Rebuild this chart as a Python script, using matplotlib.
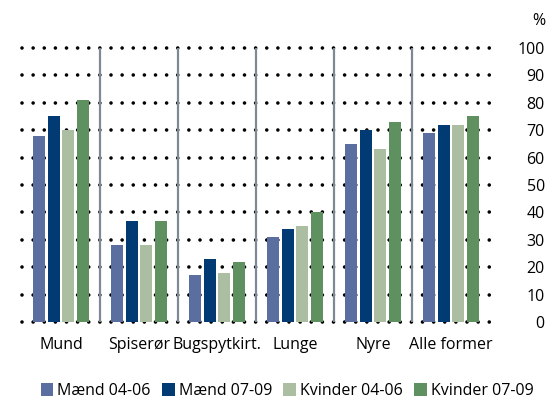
import matplotlib
matplotlib.use("Agg")
import matplotlib.pyplot as plt
from matplotlib.patches import Patch

plt.rcParams['font.family'] = ['Open Sans', 'DejaVu Sans']
plt.rcParams['lines.scale_dashes'] = False

kategorier = ["Mund", "Spiserør", "Bugspytkirt.", "Lunge", "Nyre", "Alle former"]
serier = ["Mænd 04-06", "Mænd 07-09", "Kvinder 04-06", "Kvinder 07-09"]
maend_04_06 = [68, 28, 17, 31, 65, 69]
maend_07_09 = [75, 37, 23, 34, 70, 72]
kvinder_04_06 = [70, 28, 18, 35, 63, 72]
kvinder_07_09 = [81, 37, 22, 40, 73, 75]
yticks = [0, 10, 20, 30, 40, 50, 60, 70, 80, 90, 100]

farver = ["#5a6e9f", "#023a74", "#abbea2", "#5f9160"]
data = [maend_04_06, maend_07_09, kvinder_04_06, kvinder_07_09]
fs = 11.5

fig = plt.figure(figsize=(5.49, 4.0), dpi=100)
ax = fig.add_axes([22 / 549, 78 / 400, 468 / 549, 274 / 400])

x = list(range(len(kategorier)))
pitch = 0.188
bredde = 0.155
for i, (vals, farve) in enumerate(zip(data, farver)):
    off = (i - 1.5) * pitch
    ax.bar([p + off for p in x], vals, width=bredde, color=farve, zorder=3)

# prikkede hjælpelinjer
ax.hlines(yticks, -0.5, len(kategorier) - 0.5, colors="black",
          linestyles=[(0, (0.01, 8.0))], linewidth=2.6,
          clip_on=False, zorder=1)
for ln in ax.collections:
    ln.set_capstyle("round")

# skillelinjer mellem grupperne
ax.vlines([p + 0.5 for p in x[:-1]], 0, 100, colors="#7e8993",
          linewidth=1.6, zorder=2)

ax.set_xlim(-0.5, len(kategorier) - 0.5)
ax.set_ylim(0, 100)
for s in ax.spines.values():
    s.set_visible(False)

ax.set_xticks(x)
ax.set_xticklabels(kategorier, fontsize=fs)
ax.tick_params(axis="x", length=0, pad=11)

ax.yaxis.tick_right()
ax.set_yticks(yticks)
ax.set_yticklabels([str(v) for v in yticks], fontsize=fs, ha="right")
ax.tick_params(axis="y", length=0, pad=39.5)

fig.text(545 / 549, 1 - 21 / 400, "%", ha="right", va="center", fontsize=fs)

handles = [Patch(facecolor=f, edgecolor="none") for f in farver]
fig.legend(handles, serier, loc="center", bbox_to_anchor=(287 / 549, 9 / 400),
           ncol=4, frameon=False, fontsize=fs, handlelength=0.8,
           handleheight=0.8, handletextpad=0.25, columnspacing=0.7,
           borderaxespad=0, borderpad=0)

fig.savefig("out.png", dpi=100)
